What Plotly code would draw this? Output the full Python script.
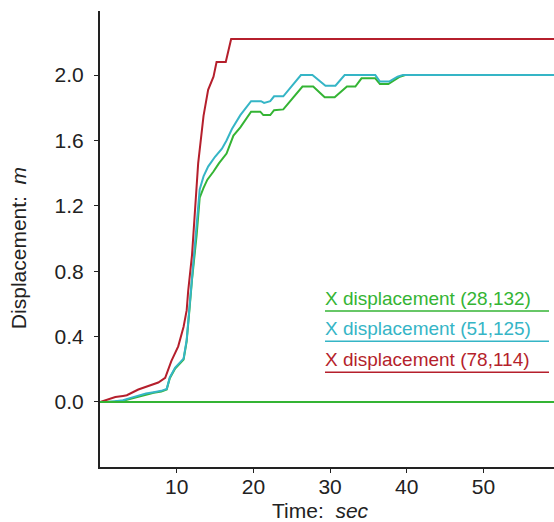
import plotly.graph_objects as go

# ---- data ----
green_t = [0, 1, 2, 3, 4, 5, 6, 7, 8, 8.7, 9.1, 9.8, 10.9, 11.3, 11.6, 12.0, 12.6, 13.0, 13.5,
           14.0, 14.8, 15.5, 16.5, 17.4, 18.3, 19.7, 20.9, 21.3, 22.2, 22.7, 23.9, 26.4, 27.8,
           29.3, 30.6, 32.2, 33.3, 34.1, 35.9, 36.5, 37.6, 38.5, 39.1, 39.8, 60]
green_v = [0, 0, 0.003, 0.008, 0.02, 0.035, 0.048, 0.056, 0.064, 0.076, 0.145, 0.205, 0.26,
           0.37, 0.53, 0.75, 1.02, 1.25, 1.31, 1.36, 1.41, 1.46, 1.52, 1.63, 1.68, 1.776, 1.776,
           1.755, 1.755, 1.785, 1.79, 1.93, 1.93, 1.864, 1.864, 1.93, 1.93, 1.98, 1.98, 1.945,
           1.945, 1.97, 1.99, 2.0, 2.0]

cyan_t = [0, 1, 2, 3, 4, 5, 6, 7, 8, 8.7, 9.1, 9.8, 10.9, 11.3, 11.6, 12.0, 12.6, 13.0, 13.5,
          14.1, 15.0, 15.9, 16.5, 17.2, 18.3, 19.7, 21.0, 21.4, 22.2, 22.7, 23.9, 26.2, 27.7,
          29.4, 30.7, 31.9, 35.9, 36.5, 37.7, 38.8, 39.5, 60]
cyan_v = [0, 0.0, 0.005, 0.01, 0.025, 0.04, 0.052, 0.06, 0.068, 0.08, 0.15, 0.21, 0.265, 0.38,
          0.55, 0.78, 1.09, 1.3, 1.38, 1.44, 1.50, 1.55, 1.60, 1.67, 1.755, 1.84, 1.84, 1.83,
          1.84, 1.87, 1.87, 2.0, 2.0, 1.935, 1.935, 2.0, 2.0, 1.96, 1.96, 1.99, 2.0, 2.0]

red_t = [0, 1, 2, 3, 3.5, 5.0, 6.3, 7.6, 8.5, 9.3, 10.2, 10.9, 11.3, 11.5, 12.0, 12.4, 12.8,
         13.5, 14.1, 14.8, 15.2, 16.4, 17.1, 60]
red_v = [0, 0.015, 0.03, 0.037, 0.041, 0.076, 0.098, 0.119, 0.147, 0.25, 0.34, 0.46, 0.56,
         0.68, 0.9, 1.2, 1.46, 1.75, 1.91, 1.99, 2.08, 2.08, 2.22, 2.22]

base_t = [0, 60]
base_v = [0, 0]

series_names = ["X displacement (28,132)", "X displacement (51,125)", "X displacement (78,114)"]
series_colors = ["#34b434", "#35b5c6", "#b51f2c"]

y_ticks = [0.0, 0.4, 0.8, 1.2, 1.6, 2.0]
x_ticks = [10, 20, 30, 40, 50]

x_title = "Time:&nbsp; <i>sec</i>"
y_title = "Displacement:&nbsp; <i>m</i>"

FONT = "Liberation Sans, Arial, sans-serif"

fig = go.Figure()
for t, v, name, col in zip([green_t, cyan_t, red_t], [green_v, cyan_v, red_v],
                           series_names, series_colors):
    fig.add_trace(go.Scatter(x=t, y=v, mode="lines", name=name,
                             line=dict(color=col, width=2), showlegend=False))
fig.add_trace(go.Scatter(x=base_t, y=base_v, mode="lines", line=dict(color=series_colors[0], width=2),
                         showlegend=False))

# legend as underlined colored text
leg_y = [0.370, 0.304, 0.236]
for name, col, yy in zip(series_names, series_colors, leg_y):
    fig.add_annotation(x=0.4956, y=yy, xref="paper", yref="paper", text=name,
                       showarrow=False, xanchor="left", yanchor="middle", xshift=-2,
                       font=dict(family=FONT, size=19, color=col))
    fig.add_shape(type="line", xref="paper", yref="paper", x0=0.4956, x1=0.989,
                  y0=yy - 0.028, y1=yy - 0.028, line=dict(color=col, width=1.5))

# axis titles
fig.add_annotation(x=0.4846, y=-0.096, xref="paper", yref="paper", text=x_title,
                   showarrow=False, xanchor="center", yanchor="middle",
                   font=dict(family=FONT, size=21, color="#222"))
fig.add_annotation(x=-0.1806, y=0.48, xref="paper", yref="paper", text=y_title,
                   showarrow=False, xanchor="center", yanchor="middle", textangle=-90,
                   font=dict(family=FONT, size=21, color="#222"))

fig.update_layout(
    width=554, height=522,
    margin=dict(l=100, r=0, t=11, b=55),
    paper_bgcolor="white", plot_bgcolor="white",
    font=dict(family=FONT, size=21, color="#222"),
    showlegend=False,
)
fig.update_xaxes(range=[0, 59.2], tickvals=x_ticks, showline=True, linecolor="#222",
                 linewidth=2, ticks="outside", ticklen=4, tickcolor="#222", showgrid=False,
                 zeroline=False, tickfont=dict(size=21), ticklabelstandoff=-4)
fig.update_yaxes(range=[-0.398, 2.392], tickvals=y_ticks, tickformat=".1f", showline=True,
                 linecolor="#222", linewidth=2, ticks="outside", ticklen=4, tickcolor="#222",
                 showgrid=False, zeroline=False, tickfont=dict(size=21), ticklabelstandoff=6)

fig.write_html("out.html")
